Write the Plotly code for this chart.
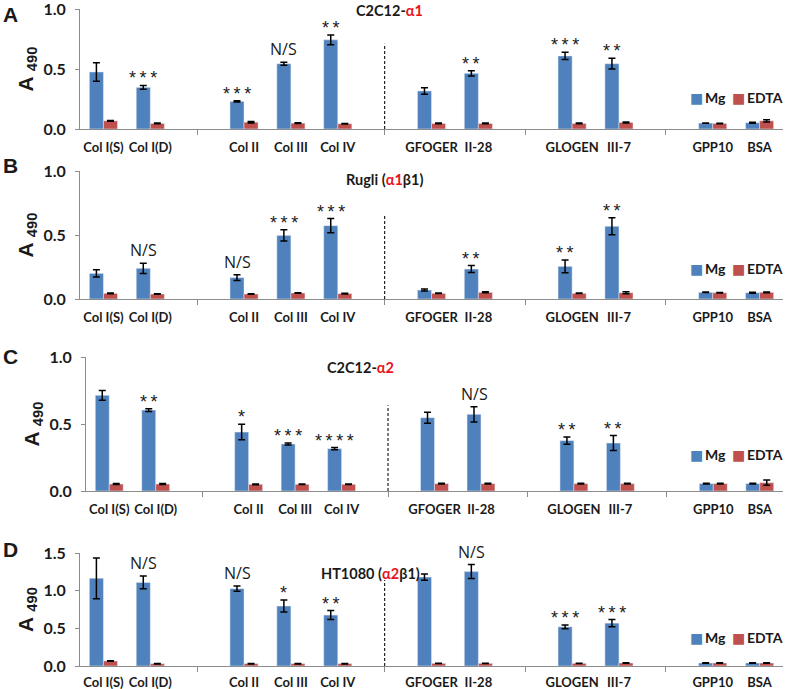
import plotly.graph_objects as go
from plotly.subplots import make_subplots

# category layout: blanks at 2, 6, 9, 12 separate the groups
labels = ["Col I(S)", "Col I(D)", "Col II", "Col III", "Col IV",
          "GFOGER", "II-28", "GLOGEN", "III-7", "GPP10", "BSA"]
positions = [0, 1, 3, 4, 5, 7, 8, 10, 11, 13, 14]
separators = [2, 6, 9, 12]
dashed_at = 6
series_names = ["Mg", "EDTA"]

# A: C2C12-a1
mg_a = [0.475, 0.347, 0.230, 0.544, 0.743, 0.317, 0.464, 0.609, 0.544, 0.049, 0.052]
mg_a_err = [0.077, 0.016, 0.006, 0.012, 0.040, 0.027, 0.022, 0.030, 0.045, 0.002, 0.004]
edta_a = [0.068, 0.046, 0.057, 0.049, 0.044, 0.046, 0.046, 0.046, 0.055, 0.046, 0.068]
edta_a_err = [0.003, 0.003, 0.006, 0.003, 0.002, 0.003, 0.003, 0.003, 0.004, 0.002, 0.010]
sig_a = ["", "***", "***", "N/S", "**", "", "**", "***", "**", "", ""]

# B: Rugli (a1b1)
mg_b = [0.200, 0.240, 0.167, 0.497, 0.573, 0.070, 0.234, 0.255, 0.568, 0.052, 0.049]
mg_b_err = [0.028, 0.040, 0.023, 0.044, 0.055, 0.008, 0.027, 0.050, 0.066, 0.002, 0.004]
edta_b = [0.044, 0.039, 0.039, 0.047, 0.042, 0.044, 0.052, 0.044, 0.049, 0.049, 0.052]
edta_b_err = [0.003, 0.002, 0.002, 0.002, 0.002, 0.002, 0.004, 0.002, 0.008, 0.002, 0.003]
sig_b = ["", "N/S", "N/S", "***", "***", "", "**", "**", "**", "", ""]

# C: C2C12-a2
mg_c = [0.714, 0.604, 0.440, 0.351, 0.316, 0.547, 0.572, 0.376, 0.358, 0.055, 0.055]
mg_c_err = [0.036, 0.010, 0.058, 0.007, 0.008, 0.041, 0.057, 0.027, 0.056, 0.002, 0.002]
edta_c = [0.052, 0.052, 0.050, 0.050, 0.050, 0.055, 0.055, 0.055, 0.055, 0.055, 0.062]
edta_c_err = [0.004, 0.004, 0.003, 0.002, 0.002, 0.002, 0.002, 0.002, 0.002, 0.002, 0.020]
sig_c = ["", "**", "*", "***", "****", "", "N/S", "**", "**", "", ""]

# D: HT1080 (a2b1)
mg_d = [1.164, 1.110, 1.027, 0.796, 0.676, 1.180, 1.253, 0.520, 0.569, 0.040, 0.040]
mg_d_err = [0.270, 0.084, 0.036, 0.080, 0.060, 0.042, 0.093, 0.024, 0.047, 0.003, 0.003]
edta_d = [0.067, 0.031, 0.031, 0.031, 0.031, 0.035, 0.035, 0.035, 0.040, 0.040, 0.040]
edta_d_err = [0.004, 0.003, 0.003, 0.003, 0.003, 0.003, 0.003, 0.003, 0.004, 0.002, 0.002]
sig_d = ["", "N/S", "N/S", "*", "**", "", "N/S", "***", "***", "", ""]

panels = [
    dict(letter="A", title="C2C12-<span style='color:#e8141b'>α1</span>",
         mg=mg_a, mg_err=mg_a_err, edta=edta_a, edta_err=edta_a_err, sig=sig_a,
         ymax=1.0, px=(9, 129), xl=80, dash=0.71, title_x=389, title_y=11, letter_y=1,
         legend_y=98, label_gap=6),
    dict(letter="B", title="Rugli (<span style='color:#e8141b'>α1</span>β1)",
         mg=mg_b, mg_err=mg_b_err, edta=edta_b, edta_err=edta_b_err, sig=sig_b,
         ymax=1.0, px=(171, 299), xl=80, dash=0.66, title_x=384, title_y=179, letter_y=152,
         legend_y=268, label_gap=6),
    dict(letter="C", title="C2C12-<span style='color:#e8141b'>α2</span>",
         mg=mg_c, mg_err=mg_c_err, edta=edta_c, edta_err=edta_c_err, sig=sig_c,
         ymax=1.0, px=(357, 491), xl=86, dash=0.64, title_x=360, title_y=367, letter_y=343,
         legend_y=454, label_gap=6),
    dict(letter="D", title="HT1080 (<span style='color:#e8141b'>α2</span>β1)",
         mg=mg_d, mg_err=mg_d_err, edta=edta_d, edta_err=edta_d_err, sig=sig_d,
         ymax=1.5, px=(553, 666), xl=80, dash=0.76, title_x=370, title_y=573, letter_y=536,
         legend_y=637, label_gap=4),
]

W, H = 787, 689


def fx(x):
    return x / W


def fy(y):
    return 1 - y / H


BLUE = "#4f81bd"
RED = "#c0504d"
FONT = "Lato"
INK = "#1a1a1a"
AXIS = "#8c8c8c"

fig = make_subplots(rows=4, cols=1)

for n, p in enumerate(panels, start=1):
    fig.add_trace(go.Bar(
        x=positions, y=p["mg"], name=series_names[0], marker_color=BLUE,
        error_y=dict(type="data", array=p["mg_err"], color="black", thickness=1.5, width=3.5),
        showlegend=False,
    ), row=n, col=1)
    fig.add_trace(go.Bar(
        x=positions, y=p["edta"], name=series_names[1], marker_color=RED,
        error_y=dict(type="data", array=p["edta_err"], color="black", thickness=1.5, width=3.5),
        showlegend=False,
    ), row=n, col=1)

    xs = "" if n == 1 else str(n)
    top, bottom = p["px"]
    fig.update_layout({
        f"xaxis{xs}": dict(
            domain=[fx(p["xl"]), fx(783)], range=[-0.5, 14.5], automargin=False,
            tickmode="array", tickvals=positions, ticktext=labels, ticks="", tickangle=0,
            minor=dict(tickvals=separators, ticks="outside", ticklen=5, tickcolor=AXIS),
            showline=True, linecolor=AXIS, linewidth=1, showgrid=False, zeroline=False,
            tickfont=dict(family=FONT, size=13, color=INK, weight="bold"),
            ticklabelstandoff=p["label_gap"], ticklabeloverflow="allow",
        ),
        f"yaxis{xs}": dict(
            domain=[fy(bottom), fy(top)], range=[0, p["ymax"]], automargin=False,
            tick0=0, dtick=0.5, tickformat=".1f",
            ticks="outside", ticklen=4, tickcolor=AXIS,
            showline=True, linecolor=AXIS, linewidth=1, showgrid=False, zeroline=False,
            tickfont=dict(family=FONT, size=16, color=INK, weight="bold"),
            ticklabelstandoff=6, ticklabeloverflow="allow",
            title=dict(text="A <sub>490</sub>", standoff=4,
                       font=dict(family="Liberation Sans", size=21, color=INK, weight="bold")),
        ),
    })

    # legend keys, drawn as text so they sit tight like the original
    for name, color, lx in zip(series_names, [BLUE, RED], [688, 730]):
        fig.add_annotation(
            x=fx(lx), y=fy(p["legend_y"]), xref="paper", yref="paper",
            text=f"<span style='color:{color};font-family:DejaVu Sans'>■</span>\u2009{name}",
            showarrow=False, xanchor="left", yanchor="middle",
            font=dict(family=FONT, size=14, color=INK, weight="bold"),
        )

    # dashed separator
    fig.add_shape(type="line", xref=f"x{xs}", yref=f"y{xs} domain",
                  x0=dashed_at, x1=dashed_at, y0=0, y1=p["dash"],
                  line=dict(color="#222222", width=1.2, dash="3px,2px"))

    # significance marks above the Mg bars
    for pos, v, e, s in zip(positions, p["mg"], p["mg_err"], p["sig"]):
        if not s:
            continue
        is_ns = s == "N/S"
        txt = s if is_ns else "\u2009".join(s)
        fig.add_annotation(
            x=pos - 0.15, y=v + e, xref=f"x{xs}", yref=f"y{xs}",
            text=txt, showarrow=False, yanchor="bottom", yshift=0 if is_ns else -5,
            font=dict(family="Liberation Sans" if not is_ns else "Open Sans",
                      size=18 if not is_ns else 16, color=INK),
        )

    # panel title
    fig.add_annotation(
        x=fx(p["title_x"]), y=fy(p["title_y"]),
        xref="paper", yref="paper", text=p["title"], showarrow=False,
        xanchor="center", yanchor="middle",
        font=dict(family=FONT, size=14.5, color=INK, weight="bold"),
    )

    # panel letter
    fig.add_annotation(
        x=fx(1), y=fy(p["letter_y"]),
        xref="paper", yref="paper", text=p["letter"], showarrow=False,
        xanchor="left", yanchor="top",
        font=dict(family="Liberation Sans", size=21, color=INK, weight="bold"),
    )

fig.update_layout(
    width=W, height=H,
    margin=dict(l=0, r=0, t=0, b=0, autoexpand=False),
    barmode="group", bargap=0.4, bargroupgap=0,
    plot_bgcolor="white", paper_bgcolor="white",
)

# drop the browser's default body margin so the figure fills the window
fig.write_html("out.html", config={"displayModeBar": False},
               post_script="document.body.style.margin='0px';")
